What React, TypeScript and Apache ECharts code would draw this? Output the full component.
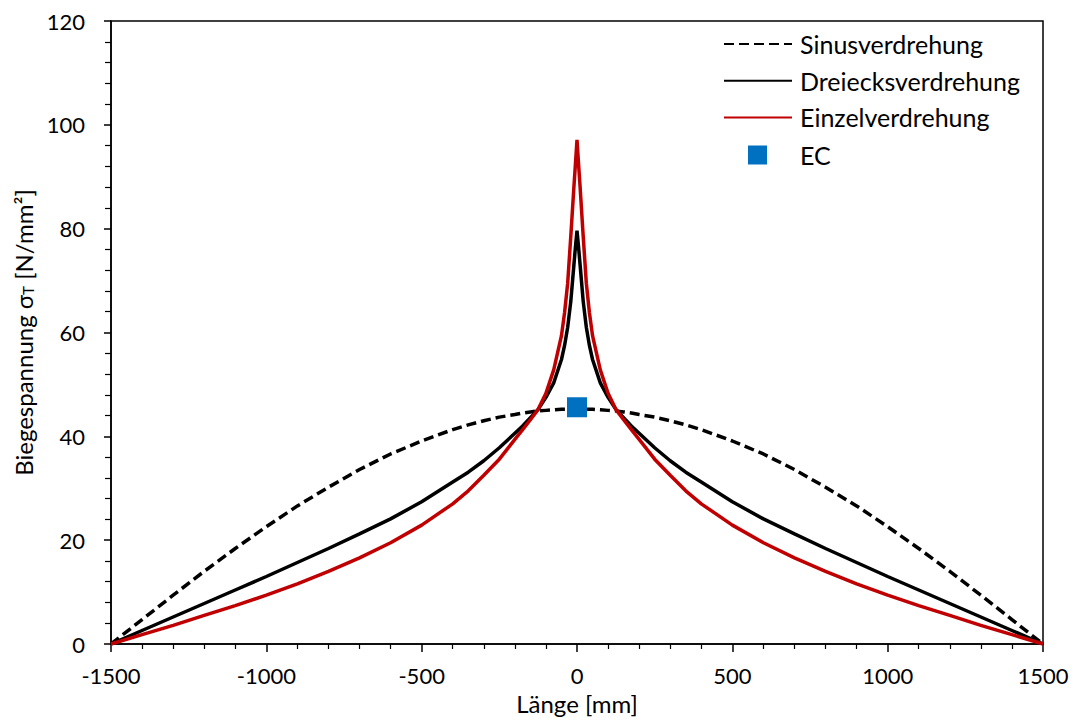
import React, { useEffect, useRef } from "react";
import * as echarts from "echarts";

const xValues = [
  -1500, -1400, -1300, -1200, -1100, -1000, -900, -800, -700, -600, -500, -400, -350, -300, -250, -200, -175, -150, -125, -100, -75, -50, -40, -30, -20, -10, -5, 0,
  5, 10, 20, 30, 40, 50, 75, 100, 125, 150, 175, 200, 250, 300, 350, 400, 500, 600, 700, 800, 900, 1000, 1100, 1200, 1300, 1400, 1500,
];

const sinusValues = [
  0, 4.7, 9.4, 14.0, 18.4, 22.6, 26.6, 30.2, 33.6, 36.6, 39.1, 41.3, 42.2, 43.0, 43.7, 44.2, 44.5, 44.7, 44.9, 45.0, 45.1, 45.2, 45.2, 45.2, 45.2, 45.2, 45.2, 45.2,
  45.2, 45.2, 45.2, 45.2, 45.2, 45.2, 45.1, 45.0, 44.9, 44.7, 44.5, 44.2, 43.7, 43.0, 42.2, 41.3, 39.1, 36.6, 33.6, 30.2, 26.6, 22.6, 18.4, 14.0, 9.4, 4.7, 0,
];

const dreieckValues = [
  0, 2.6, 5.2, 7.8, 10.4, 13.0, 15.7, 18.4, 21.2, 24.1, 27.4, 31.2, 33.1, 35.3, 37.8, 40.6, 42.0, 43.6, 45.2, 47.5, 50.3, 54.8, 57.5, 61.0, 66.0, 73.0, 76.5, 79.6,
  76.5, 73.0, 66.0, 61.0, 57.5, 54.8, 50.3, 47.5, 45.2, 43.6, 42.0, 40.6, 37.8, 35.3, 33.1, 31.2, 27.4, 24.1, 21.2, 18.4, 15.7, 13.0, 10.4, 7.8, 5.2, 2.6, 0,
];

const einzelValues = [
  0, 1.8, 3.6, 5.5, 7.4, 9.4, 11.6, 14.0, 16.6, 19.5, 22.9, 27.0, 29.5, 32.5, 35.6, 39.4, 41.3, 43.2, 45.2, 48.3, 52.8, 59.4, 63.8, 69.5, 78.5, 88.0, 92.5, 97.1,
  92.5, 88.0, 78.5, 69.5, 63.8, 59.4, 52.8, 48.3, 45.2, 43.2, 41.3, 39.4, 35.6, 32.5, 29.5, 27.0, 22.9, 19.5, 16.6, 14.0, 11.6, 9.4, 7.4, 5.5, 3.6, 1.8, 0,
];

const ecPoint = [0, 45.6];

const seriesNames = ["Sinusverdrehung", "Dreiecksverdrehung", "Einzelverdrehung", "EC"];

const FONT = "Lato";

export default function App() {
  const ref = useRef<HTMLDivElement>(null);

  useEffect(() => {
    if (!ref.current) return;
    const chart = echarts.init(ref.current, null, { renderer: "svg" });
    const pair = (ys: number[]) => xValues.map((x, i) => [x, ys[i]]);

    chart.setOption({
      animation: false,
      backgroundColor: "#fff",
      textStyle: { fontFamily: FONT },
      grid: {
        left: 111,
        right: 32,
        top: 21,
        bottom: 69,
        show: true,
        borderColor: "#000",
        borderWidth: 1.5,
        backgroundColor: "transparent",
      },
      legend: [
        {
          orient: "vertical",
          left: 723,
          top: 31.5,
          padding: 0,
          itemWidth: 68,
          itemHeight: 25,
          itemGap: 11.7,
          itemStyle: { opacity: 0 },
          data: seriesNames.slice(0, 3),
          textStyle: { fontFamily: FONT, fontSize: 25, lineHeight: 25, color: "#000", padding: [0, 0, 0, 3] },
        },
        {
          orient: "vertical",
          left: 748,
          top: 142.5,
          padding: 0,
          itemWidth: 19,
          itemHeight: 19,
          data: [{ name: "EC", icon: "rect" }],
          textStyle: { fontFamily: FONT, fontSize: 25, lineHeight: 25, color: "#000", padding: [0, 0, 0, 28] },
        },
      ],
      xAxis: {
        type: "value",
        min: -1500,
        max: 1500,
        interval: 500,
        name: "Länge [mm]",
        nameLocation: "middle",
        nameGap: 47,
        nameTextStyle: { fontFamily: FONT, fontSize: 24, color: "#000" },
        axisLine: { show: true, onZero: false, lineStyle: { color: "#000", width: 1.5 } },
        axisTick: { show: true, inside: false, length: 8, lineStyle: { color: "#000", width: 1.5 } },
        minorTick: { show: true, splitNumber: 5, length: 5, lineStyle: { color: "#000", width: 1.2 } },
        axisLabel: { margin: 20, fontFamily: FONT, fontSize: 22, color: "#000", formatter: (v: number) => String(v) },
        splitLine: { show: false },
      },
      yAxis: {
        type: "value",
        min: 0,
        max: 120,
        interval: 20,
        name: "{a|Biegespannung σ}{s|T}{a| [N/mm²]}",
        nameLocation: "middle",
        nameGap: 70,
        nameRotate: 90,
        nameTextStyle: {
          fontFamily: FONT,
          color: "#000",
          rich: {
            a: { fontFamily: FONT, fontSize: 24, color: "#000" },
            s: { fontFamily: FONT, fontSize: 15, color: "#000", verticalAlign: "bottom", padding: [10, 0, 0, 0] },
          },
        },
        axisLine: { show: true, onZero: false, lineStyle: { color: "#000", width: 1.5 } },
        axisTick: { show: true, inside: false, length: 7, lineStyle: { color: "#000", width: 1.5 } },
        minorTick: { show: true, splitNumber: 5, length: 6, lineStyle: { color: "#000", width: 1.2 } },
        axisLabel: { margin: 26, fontFamily: FONT, fontSize: 22, color: "#000", formatter: (v: number) => String(v) },
        splitLine: { show: false },
      },
      series: [
        {
          name: seriesNames[0],
          type: "line",
          data: pair(sinusValues),
          symbol: "none",
          smooth: false,
          lineStyle: { color: "#000", width: 3.5, type: [10, 5] },
          itemStyle: { color: "#000" },
          z: 2,
        },
        {
          name: seriesNames[1],
          type: "line",
          data: pair(dreieckValues),
          symbol: "none",
          smooth: false,
          lineStyle: { color: "#000", width: 3.5 },
          itemStyle: { color: "#000" },
          z: 3,
        },
        {
          name: seriesNames[2],
          type: "line",
          data: pair(einzelValues),
          symbol: "none",
          smooth: false,
          lineStyle: { color: "#C00000", width: 3.5 },
          itemStyle: { color: "#C00000" },
          z: 4,
        },
        {
          name: seriesNames[3],
          type: "scatter",
          data: [ecPoint],
          symbol: "rect",
          symbolSize: 20,
          itemStyle: { color: "#0070C0", opacity: 1 },
          z: 5,
        },
      ],
    });

    return () => chart.dispose();
  }, []);

  return (
    <div
      ref={ref}
      style={{ position: "fixed", left: 0, top: 0, width: 1075, height: 720, background: "#fff" }}
    />
  );
}
